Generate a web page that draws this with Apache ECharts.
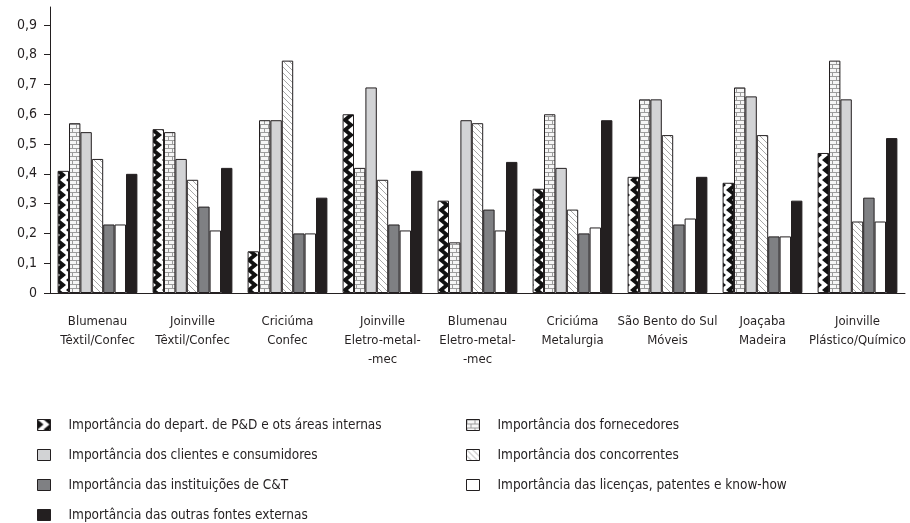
<!DOCTYPE html>
<html>
<head>
<meta charset="utf-8">
<script src="https://cdn.jsdelivr.net/npm/echarts@6/dist/echarts.min.js"></script>
<style>
html,body{margin:0;padding:0;background:#fff;}
#main{width:910px;height:523px;}
</style>
</head>
<body>
<div id="main"></div>
<script>
// categorias (polos / setores)
var categorias = ['Blumenau\nTêxtil/Confec', 'Joinville\nTêxtil/Confec', 'Criciúma\nConfec', 'Joinville\nEletro-metal-\n-mec',
    'Blumenau\nEletro-metal-\n-mec', 'Criciúma\nMetalurgia', 'São Bento do Sul\nMóveis', 'Joaçaba\nMadeira', 'Joinville\nPlástico/Químico'];

var nomes = [
    'Importância do depart. de P&D e ots áreas internas',
    'Importância dos fornecedores',
    'Importância dos clientes e consumidores',
    'Importância dos concorrentes',
    'Importância das instituições de C&T',
    'Importância das licenças, patentes e know-how',
    'Importância das outras fontes externas'
];

var pdInternas   = [0.41, 0.55, 0.14, 0.60, 0.31, 0.35, 0.39, 0.37, 0.47];
var fornecedores = [0.57, 0.54, 0.58, 0.42, 0.17, 0.60, 0.65, 0.69, 0.78];
var clientes     = [0.54, 0.45, 0.58, 0.69, 0.58, 0.42, 0.65, 0.66, 0.65];
var concorrentes = [0.45, 0.38, 0.78, 0.38, 0.57, 0.28, 0.53, 0.53, 0.24];
var instituicoes = [0.23, 0.29, 0.20, 0.23, 0.28, 0.20, 0.23, 0.19, 0.32];
var licencas     = [0.23, 0.21, 0.20, 0.21, 0.21, 0.22, 0.25, 0.19, 0.24];
var outras       = [0.40, 0.42, 0.32, 0.41, 0.44, 0.58, 0.39, 0.31, 0.52];

var yTicks = [0, 0.1, 0.2, 0.3, 0.4, 0.5, 0.6, 0.7, 0.8, 0.9];

var fonte = "'Liberation Sans Narrow', 'DejaVu Sans Condensed', sans-serif";
var tinta = '#231f20';

// texturas das barras
function textura(w, h, desenha) {
    var c = document.createElement('canvas');
    c.width = w; c.height = h;
    desenha(c.getContext('2d'));
    return {image: c, repeat: 'repeat'};
}
var zigue = textura(12, 10, function (g) {
    g.fillStyle = '#fff'; g.fillRect(0, 0, 12, 10);
    g.fillStyle = '#111';
    g.beginPath(); g.moveTo(0, 0); g.lineTo(6, 5); g.lineTo(0, 10); g.closePath(); g.fill();
    g.beginPath(); g.moveTo(12, 5); g.lineTo(6, 10); g.lineTo(12, 15); g.closePath(); g.fill();
    g.beginPath(); g.moveTo(12, -5); g.lineTo(6, 0); g.lineTo(12, 5); g.closePath(); g.fill();
});
var tijolo = textura(8, 8, function (g) {
    g.fillStyle = '#f6f6f6'; g.fillRect(0, 0, 8, 8);
    g.fillStyle = '#9c9c9c';
    g.fillRect(0, 0, 8, 1); g.fillRect(0, 4, 8, 1);
    g.fillRect(0, 0, 1, 4); g.fillRect(4, 4, 1, 4);
});
var listra = textura(6, 6, function (g) {
    g.fillStyle = '#fff'; g.fillRect(0, 0, 6, 6);
    g.strokeStyle = '#a8a8a8'; g.lineWidth = 1;
    g.beginPath();
    g.moveTo(-1, -1); g.lineTo(7, 7);
    g.moveTo(-1, 5); g.lineTo(1, 7);
    g.moveTo(5, -1); g.lineTo(7, 1);
    g.stroke();
});

var cores = [zigue, tijolo, '#d2d3d5', listra, '#7f8083', '#ffffff', tinta];
var dados = [pdInternas, fornecedores, clientes, concorrentes, instituicoes, licencas, outras];

var series = [];
for (var i = 0; i < dados.length; i++) {
    series.push({
        name: nomes[i],
        type: 'bar',
        barGap: 0,
        barCategoryGap: '16%',
        itemStyle: {color: cores[i], borderColor: tinta, borderWidth: 1},
        data: dados[i]
    });
}

var legenda = {
    orient: 'vertical',
    top: 417,
    height: 120,
    padding: 0,
    itemWidth: 13,
    itemHeight: 11,
    itemGap: 14,
    selectedMode: false,
    icon: 'rect',
    itemStyle: {borderColor: tinta, borderWidth: 1},
    textStyle: {fontFamily: fonte, fontSize: 13.5, color: tinta, lineHeight: 16, padding: [0, 0, 0, 13]}
};

var myChart = echarts.init(document.getElementById('main'));
var option = {
    backgroundColor: '#fff',
    animation: false,
    textStyle: {fontFamily: fonte},
    grid: {left: 50, right: 5, top: 7, bottom: 230},
    legend: [
        echarts.util.merge({left: 37, data: [nomes[0], nomes[2], nomes[4], nomes[6]]}, legenda, true),
        echarts.util.merge({left: 466, data: [nomes[1], nomes[3], nomes[5]]}, legenda, true)
    ],
    xAxis: {
        type: 'category',
        data: categorias,
        axisLine: {lineStyle: {color: tinta, width: 1}},
        axisTick: {length: 5, lineStyle: {color: tinta}},
        axisLabel: {interval: 0, margin: 19, fontSize: 13, lineHeight: 19, color: tinta, fontFamily: fonte}
    },
    yAxis: {
        type: 'value',
        min: 0,
        max: 0.96,
        splitLine: {show: false},
        axisLine: {show: true, lineStyle: {color: tinta, width: 1}},
        axisTick: {show: true, length: 6, customValues: yTicks, lineStyle: {color: tinta}},
        axisLabel: {
            customValues: yTicks,
            margin: 13,
            fontSize: 14,
            color: tinta,
            fontFamily: fonte,
            formatter: function (v) { return String(Math.round(v * 10) / 10).replace('.', ','); }
        }
    },
    series: series
};
myChart.setOption(option);
</script>
</body>
</html>
